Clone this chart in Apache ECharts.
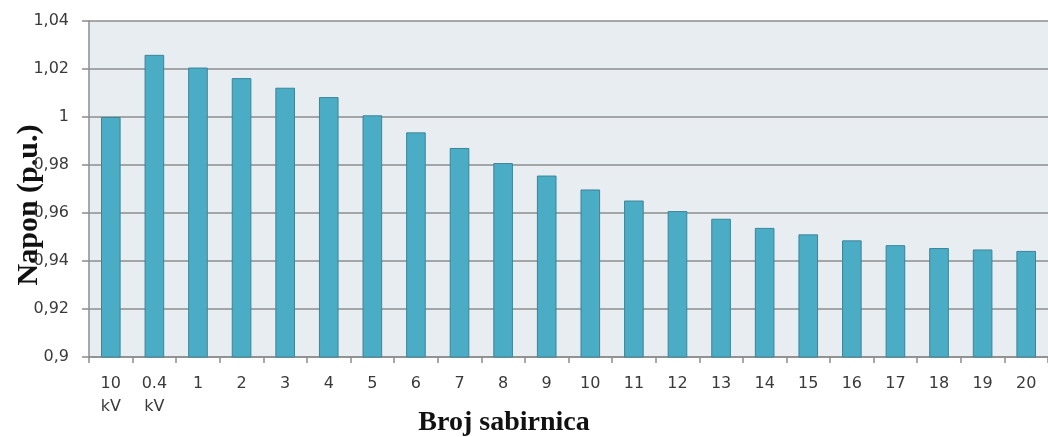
<!DOCTYPE html>
<html>
<head>
<meta charset="utf-8">
<script src="https://cdn.jsdelivr.net/npm/echarts@6/dist/echarts.min.js"></script>
<style>
html,body{margin:0;padding:0;background:#fff;}
#chart{width:1048px;height:437px;}
</style>
</head>
<body>
<div id="chart"></div>
<script>
var categories = ['10\nkV','0.4\nkV','1','2','3','4','5','6','7','8','9','10','11','12','13','14','15','16','17','18','19','20'];
var voltages = [1.000, 1.0259, 1.0206, 1.0162, 1.0122, 1.0083, 1.0007, 0.9936, 0.9871, 0.9808, 0.9756, 0.9698, 0.9652, 0.9608, 0.9576, 0.9538, 0.9511, 0.9486, 0.9466, 0.9454, 0.9448, 0.9442];
var xTitle = 'Broj sabirnica';
var yTitle = 'Napon (p.u.)';
var yMin = 0.9, yMax = 1.04, yStep = 0.02;

var chart = echarts.init(document.getElementById('chart'), null, {renderer: 'canvas'});
chart.setOption({
  animation: false,
  backgroundColor: '#ffffff',
  grid: {
    left: 89, top: 21, bottom: 80, right: -9,
    show: true, backgroundColor: '#e8edf1', borderWidth: 0
  },
  xAxis: {
    type: 'category',
    data: categories,
    boundaryGap: true,
    axisLine: {show: true, lineStyle: {color: '#8c8c8c', width: 1.5}},
    axisTick: {show: true, length: 6, alignWithLabel: false, lineStyle: {color: '#8c8c8c', width: 1.5}},
    axisLabel: {
      interval: 0, margin: 15, color: '#3a3a3a',
      fontFamily: 'DejaVu Sans', fontSize: 16, lineHeight: 23,
      verticalAlign: 'top'
    },
    splitLine: {show: false}
  },
  yAxis: {
    type: 'value',
    min: yMin, max: yMax, interval: yStep,
    axisLine: {show: true, lineStyle: {color: '#8c8c8c', width: 1.5}},
    axisTick: {show: true, length: 7, lineStyle: {color: '#8c8c8c', width: 1.5}},
    axisLabel: {
      margin: 20, color: '#3a3a3a', fontFamily: 'DejaVu Sans', fontSize: 16,
      formatter: function (v) {
        return String(parseFloat(v.toFixed(4))).replace('.', ',');
      }
    },
    splitLine: {show: true, lineStyle: {color: '#8c8c8c', width: 1.5}}
  },
  series: [{
    type: 'bar',
    data: voltages,
    barWidth: '45%',
    itemStyle: {color: '#4bacc6', borderColor: '#3a8598', borderWidth: 1}
  }],
  graphic: [
    {
      type: 'text', x: 504, y: 423,
      style: {text: xTitle, font: 'bold 28px "Liberation Serif", "Times New Roman", serif',
              fill: '#111', align: 'center', verticalAlign: 'middle'}
    },
    {
      type: 'text', x: 29, y: 205, rotation: Math.PI / 2,
      style: {text: yTitle, font: 'bold 30px "Liberation Serif", "Times New Roman", serif',
              fill: '#111', align: 'center', verticalAlign: 'middle'}
    }
  ]
});
</script>
</body>
</html>
